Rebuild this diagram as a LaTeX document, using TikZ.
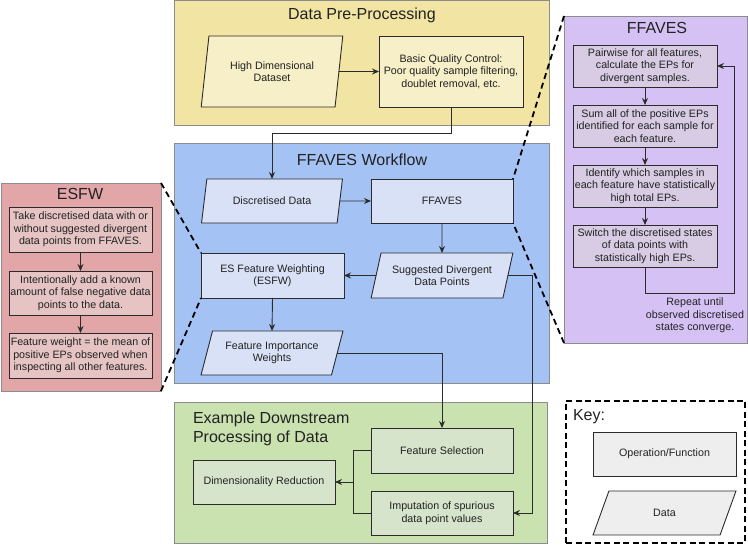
\documentclass[tikz,border=0pt]{standalone}
\usepackage{fontspec}
\setmainfont{Liberation Sans}
\usetikzlibrary{shapes.geometric,arrows.meta,calc}
\definecolor{yelP}{HTML}{F2E4A2}
\definecolor{yelI}{HTML}{F6EFC7}
\definecolor{bluP}{HTML}{A4C2F4}
\definecolor{bluI}{HTML}{D9E1F6}
\definecolor{redP}{HTML}{E2A5A8}
\definecolor{redI}{HTML}{E6C4C4}
\definecolor{purP}{HTML}{D6C1F5}
\definecolor{purI}{HTML}{D7CCE4}
\definecolor{grnP}{HTML}{C9E2B0}
\definecolor{grnI}{HTML}{D5E4CB}
\definecolor{keyI}{HTML}{EEEEEE}
\definecolor{linec}{HTML}{2B2B2B}
\definecolor{txt}{HTML}{222222}
\begin{document}
\begin{tikzpicture}[x=1pt,y=-1pt,
  every node/.style={inner sep=0pt, outer sep=0pt, text=txt, font=\fontsize{10.7}{12.5}\selectfont},
  panel/.style={draw=black!45, line width=0.8pt, anchor=north west, rectangle},
  opbox/.style={draw=linec, line width=0.9pt, rectangle, align=center},
  databox/.style={draw=linec, line width=0.9pt, trapezium, trapezium stretches=true, align=center},
  ptitle/.style={font=\fontsize{16}{19}\selectfont, anchor=base},
  conn/.style={draw=linec, line width=0.9pt},
  arr/.style={conn, -{Stealth[length=7pt,width=6pt]}},
  zoomline/.style={draw=black, line width=1.8pt, dash pattern=on 6pt off 4pt}
]
\useasboundingbox (0,0) rectangle (748,545);

% panels
\node[panel, fill=yelP, minimum width=375pt, minimum height=125pt] (yp) at (174,0) {};
\node[panel, fill=bluP, minimum width=375pt, minimum height=240pt] (bp) at (174,143) {};
\node[panel, fill=grnP, minimum width=373pt, minimum height=141pt] (gp) at (174,402) {};
\node[panel, fill=redP, minimum width=160pt, minimum height=208pt] (rp) at (1,183) {};
\node[panel, fill=purP, minimum width=183pt, minimum height=327pt] (pp) at (564,16) {};
\node[panel, draw=black, line width=1.8pt, dash pattern=on 6pt off 3.5pt, minimum width=179pt, minimum height=142pt] (kp) at (566,401) {};

% titles
\node[ptitle] (yt) at (362,20) {Data Pre-Processing};
\node[ptitle] (bt) at (362,166) {FFAVES Workflow};
\node[ptitle] (rt) at (80,200) {ESFW};
\node[ptitle] (pt) at (657,34) {FFAVES};
\node[ptitle, anchor=base west] (kt) at (573,421) {Key:};
\node[font=\fontsize{16}{18.5}\selectfont, anchor=north west, align=left] (gt) at (193,412) {Example Downstream\\Processing of Data};

% data pre-processing
\node[databox, fill=yelI, minimum width=142pt, minimum height=71pt, trapezium left angle=75.8, trapezium right angle=104.2] (hd) at (272,71.5) {High Dimensional\\Dataset};
\node[opbox, fill=yelI, minimum width=144pt, minimum height=71pt] (qc) at (451,71.5) {Basic Quality Control:\\Poor quality sample filtering,\\doublet removal, etc.};

% workflow
\node[databox, fill=bluI, minimum width=142pt, minimum height=44pt, trapezium left angle=67.8, trapezium right angle=112.2] (dd) at (272,201) {Discretised Data};
\node[opbox, fill=bluI, minimum width=142pt, minimum height=44pt] (ff) at (442,201) {FFAVES};
\node[opbox, fill=bluI, minimum width=143pt, minimum height=45pt] (es) at (272.5,275.5) {ES Feature Weighting\\(ESFW)};
\node[databox, fill=bluI, minimum width=142pt, minimum height=45pt, trapezium left angle=68.2, trapezium right angle=111.8] (sd) at (442,275.5) {Suggested Divergent\\Data Points};
\node[databox, fill=bluI, minimum width=142pt, minimum height=44pt, trapezium left angle=67.8, trapezium right angle=112.2] (fw) at (272,353) {Feature Importance\\Weights};

% downstream
\node[opbox, fill=grnI, minimum width=142pt, minimum height=45pt] (fs) at (442,450.5) {Feature Selection};
\node[opbox, fill=grnI, minimum width=142pt, minimum height=44pt] (im) at (442,513) {Imputation of spurious\\data point values};
\node[opbox, fill=grnI, minimum width=142pt, minimum height=44pt] (dr) at (264,482) {Dimensionality Reduction};

% ESFW detail
\node[opbox, fill=redI, minimum width=143pt, minimum height=45pt] (e1) at (80.5,229.5) {Take discretised data with or\\without suggested divergent\\data points from FFAVES.};
\node[opbox, fill=redI, minimum width=143pt, minimum height=44pt] (e2) at (80.5,293) {Intentionally add a known\\amount of false negative data\\points to the data.};
\node[opbox, fill=redI, minimum width=143pt, minimum height=45pt] (e3) at (80.5,355.5) {Feature weight = the mean of\\positive EPs observed when\\inspecting all other features.};

% FFAVES detail
\node[opbox, fill=purI, minimum width=144pt, minimum height=42pt] (p1) at (645,66) {Pairwise for all features,\\calculate the EPs for\\divergent samples.};
\node[opbox, fill=purI, minimum width=144pt, minimum height=42pt] (p2) at (645,126) {Sum all of the positive EPs\\identified for each sample for\\each feature.};
\node[opbox, fill=purI, minimum width=144pt, minimum height=42pt] (p3) at (645,186) {Identify which samples in\\each feature have statistically\\high total EPs.};
\node[opbox, fill=purI, minimum width=144pt, minimum height=42pt] (p4) at (645,246) {Switch the discretised states\\of data points with\\statistically high EPs.};
\node[align=center] (rep) at (695,315.5) {Repeat until\\observed discretised\\states converge.};

% key
\node[opbox, fill=keyI, minimum width=143pt, minimum height=44pt] (k1) at (664.5,454) {Operation/Function};
\node[databox, fill=keyI, minimum width=143pt, minimum height=44pt, trapezium left angle=66.6, trapezium right angle=113.4] (k2) at (664.5,513) {Data};

% connectors
\draw[arr] (hd) -- (qc);
\draw[arr] (qc.south) -- ++(0,26) -| (dd.north);
\draw[arr] (dd) -- (ff);
\draw[arr] (ff.south) -- (sd.north);
\draw[arr] (sd) -- (es);
\draw[arr] (es.south) -- (fw.north);
\draw[arr] (fw.east) -| (fs.north);
\coordinate (c1) at (532,513);
\draw[arr] (sd.east) -| (c1) -- (im.east);
\draw[conn] (fs.west) -- ++(-18,0) coordinate (j1) |- (im.west);
\draw[arr] (j1 |- dr.east) -- (dr.east);

\draw[arr] (e1.south) -- (e2.north);
\draw[arr] (e2.south) -- (e3.north);
\draw[arr] (p1.south) -- (p2.north);
\draw[arr] (p2.south) -- (p3.north);
\draw[arr] (p3.south) -- (p4.north);
\draw[arr] (p4.south) -- ++(0,26) -| ($(p1.east)+(17,0)$) -- (p1.east);

% zoom lines
\draw[zoomline] (rp.north east) -- (es.north west);
\draw[zoomline] (rp.south east) -- (es.south west);
\draw[zoomline] (pp.north west) -- (ff.north east);
\draw[zoomline] (pp.south west) -- (ff.south east);
\end{tikzpicture}
\end{document}
